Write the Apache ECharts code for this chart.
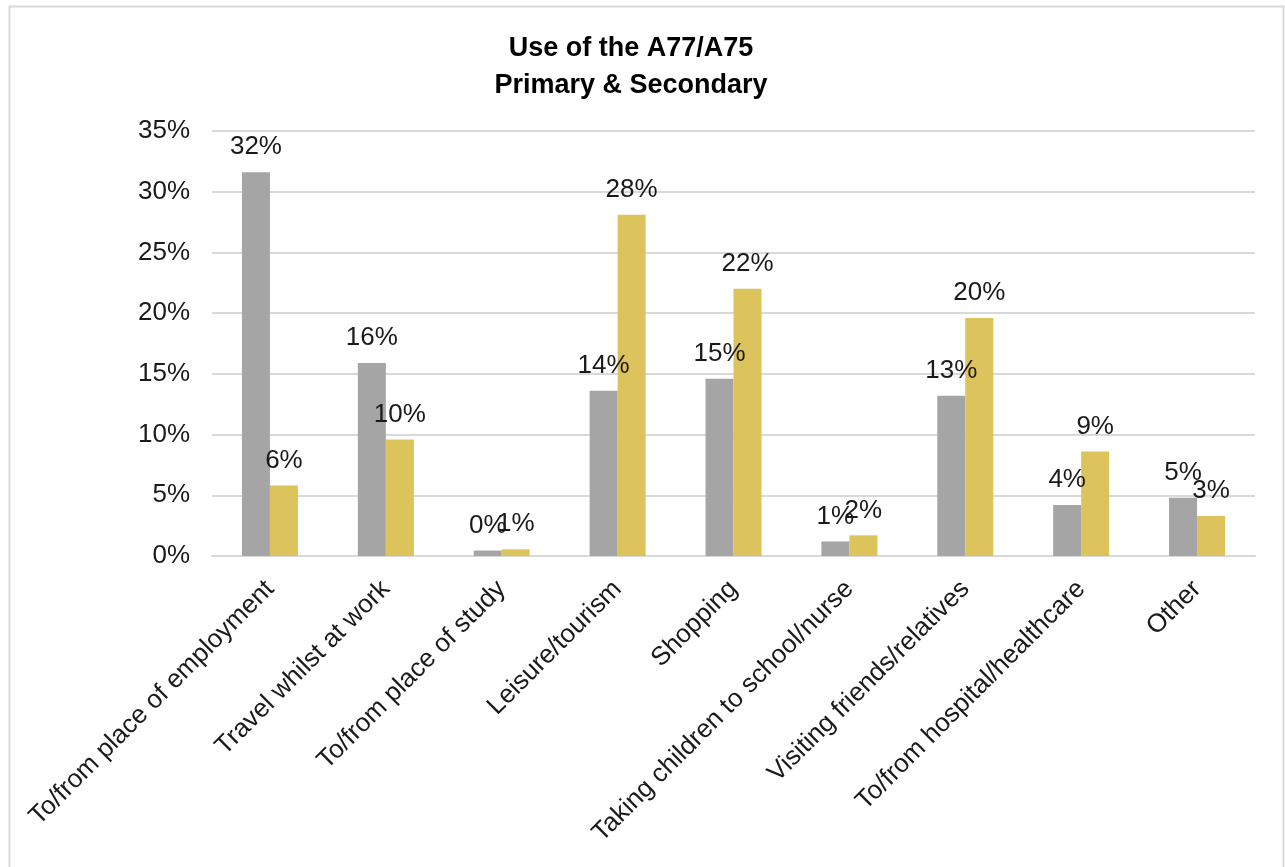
<!DOCTYPE html>
<html>
<head>
<meta charset="utf-8">
<script src="https://cdn.jsdelivr.net/npm/echarts@6/dist/echarts.min.js"></script>
<style>
html,body{margin:0;padding:0;background:#fff;}
#chart{width:1285px;height:867px;}
</style>
</head>
<body>
<div id="chart"></div>
<script>
var categories = ['To/from place of employment','Travel whilst at work','To/from place of study','Leisure/tourism','Shopping','Taking children to school/nurse','Visiting friends/relatives','To/from hospital/healthcare','Other'];
var primaryValues = [31.6, 15.9, 0.45, 13.6, 14.6, 1.2, 13.2, 4.2, 4.8];
var secondaryValues = [5.8, 9.6, 0.55, 28.1, 22.0, 1.7, 19.6, 8.6, 3.3];
var yTicks = [0, 5, 10, 15, 20, 25, 30, 35];

var chart = echarts.init(document.getElementById('chart'));
var font = 'Liberation Sans, Arial, sans-serif';
var labelCfg = {
  show: true, position: 'top', distance: 12,
  fontFamily: font, fontSize: 26, color: '#1a1a1a',
  formatter: function(p){ return Math.round(p.value) + '%'; }
};
chart.setOption({
  animation: false,
  title: {
    text: 'Use of the A77/A75\nPrimary & Secondary',
    left: 626, top: 25, textAlign: 'center',
    textStyle: {fontFamily: font, fontSize: 27, fontWeight: 'bold', color: '#000', lineHeight: 37}
  },
  graphic: [{
    type: 'rect', left: 7, top: 4, silent: true,
    shape: {x: 0, y: 0, width: 1274, height: 875},
    style: {fill: 'none', stroke: '#d9d9d9', lineWidth: 2}
  }],
  grid: {left: 212, right: 30, top: 131, bottom: 311},
  xAxis: {
    type: 'category', data: categories,
    axisLine: {lineStyle: {color: '#d9d9d9', width: 2}},
    axisTick: {show: false},
    axisLabel: {rotate: 45, margin: 29, interval: 0, fontFamily: font, fontSize: 26, color: '#1a1a1a'}
  },
  yAxis: {
    type: 'value', min: yTicks[0], max: yTicks[yTicks.length-1], interval: 5,
    axisLine: {show: false}, axisTick: {show: false},
    splitLine: {lineStyle: {color: '#d9d9d9', width: 2}},
    axisLabel: {margin: 22, fontFamily: font, fontSize: 26, color: '#1a1a1a', formatter: '{value}%'}
  },
  series: [
    {name: 'Primary', type: 'bar', data: primaryValues, barWidth: 28, barGap: '0%',
     itemStyle: {color: '#a5a5a5'}, label: labelCfg},
    {name: 'Secondary', type: 'bar', data: secondaryValues, barWidth: 28, barGap: '0%',
     itemStyle: {color: '#dcc35b'}, label: labelCfg}
  ]
});
</script>
</body>
</html>
